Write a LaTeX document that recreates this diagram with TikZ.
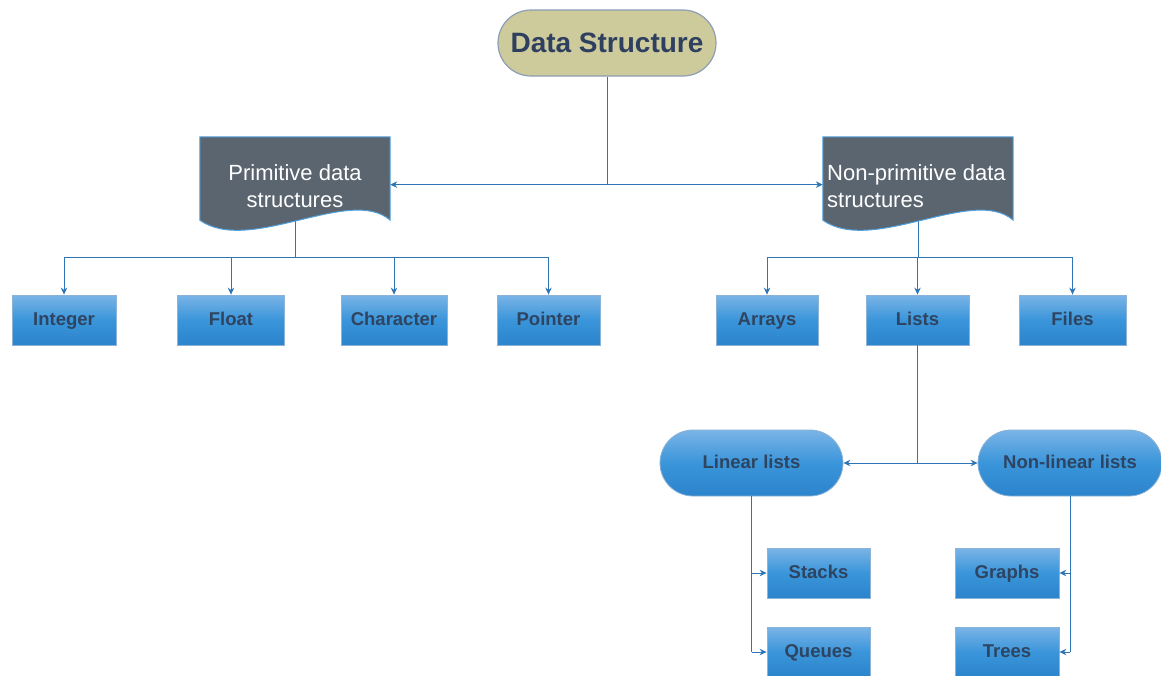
\documentclass[tikz,border=0pt]{standalone}
\usepackage{fontspec}
\setmainfont{Liberation Sans}
\usetikzlibrary{arrows.meta,calc}

\definecolor{wire}{RGB}{46,117,182}
\definecolor{boxtop}{RGB}{122,180,230}
\definecolor{boxmid}{RGB}{58,149,218}
\definecolor{boxbot}{RGB}{44,132,204}
\definecolor{boxedge}{RGB}{140,178,214}
\definecolor{boxtext}{RGB}{46,68,96}
\definecolor{docfill}{RGB}{90,101,112}
\definecolor{docedge}{RGB}{80,160,220}
\definecolor{rootfill}{RGB}{205,203,155}
\definecolor{rootedge}{RGB}{140,157,181}
\definecolor{roottext}{RGB}{47,63,95}

\tikzset{
  wireline/.style={draw=wire, line width=1pt},
  tip/.style={-{Stealth[length=7pt,width=6.5pt]}},
  bothtips/.style={{Stealth[length=7pt,width=6.5pt]}-{Stealth[length=7pt,width=6.5pt]}},
  leaf/.style={rectangle, draw=boxedge, line width=0.8pt,
    top color=boxtop, bottom color=boxbot, middle color=boxmid,
    minimum width=104pt, minimum height=50pt, inner sep=0pt,
    text height=14.5pt, text depth=3pt,
    text=boxtext, font=\fontsize{18.5}{22}\selectfont\bfseries},
  pill/.style={leaf, rounded corners=33pt, minimum width=183pt, minimum height=66pt},
  root/.style={rectangle, rounded corners=33pt, draw=rootedge, line width=1.2pt,
    fill=rootfill, minimum width=218pt, minimum height=66pt,
    text height=22pt, text depth=4pt,
    text=roottext, font=\fontsize{28}{32}\selectfont\bfseries},
  docarea/.style={rectangle, minimum width=190pt, minimum height=83pt, inner sep=0pt},
  doctext/.style={text=white, font=\fontsize{22}{27}\selectfont, inner sep=0pt}
}

% document shape with a wavy lower edge, drawn over the area of a named node
\newcommand\docshape[1]{%
  \filldraw[fill=docfill, draw=docedge, line width=1pt]
    (#1.north west) -- (#1.north east) -- (#1.south east)
    .. controls ($(#1.south east)+(-40,-35)$) and ($(#1.south west)+(50,35)$)
    .. (#1.south west) -- cycle;}

\begin{document}
\begin{tikzpicture}[x=1pt, y=-1pt]
\useasboundingbox (0,0) rectangle (1161,675);

% nodes
\node[root] (ds) at (607,43) {Data Structure};
\node[docarea] (prim) at (295,178.5) {};
\node[docarea] (nonprim) at (918,178.5) {};

\node[leaf] (int)  at (64,320)    {Integer};
\node[leaf, minimum width=107pt] (flt)  at (231,320) {Float};
\node[leaf, minimum width=106pt] (chr)  at (394,320) {Character};
\node[leaf, minimum width=103pt] (ptr)  at (548.5,320) {Pointer};

\node[leaf, minimum width=102pt] (arr)  at (767,320)  {Arrays};
\node[leaf, minimum width=103pt] (lst)  at (917.5,320) {Lists};
\node[leaf, minimum width=107pt] (fil)  at (1072.5,320) {Files};

\node[pill] (lin)    at (751.5,463) {Linear lists};
\node[pill, minimum width=184pt] (nonlin) at (1070,463) {Non-linear lists};

\node[leaf, minimum width=103pt] (stk) at (818.5,573) {Stacks};
\node[leaf, minimum width=103pt] (que) at (818.5,652) {Queues};
\node[leaf] (grp) at (1007,573) {Graphs};
\node[leaf] (tre) at (1007,652) {Trees};

% connectors
\draw[wireline] (ds.south) -- ++(0,108) coordinate (hub);
\draw[wireline, bothtips] (prim.east |- hub) -- (nonprim.west |- hub);

\draw[wireline] (prim.south) -- ++(0,37) coordinate (pbus);
\draw[wireline] (pbus -| int.north) -- (pbus -| ptr.north);
\foreach \b in {int,flt,chr,ptr}
  \draw[wireline, tip] (pbus -| \b.north) -- (\b.north);

\draw[wireline] (nonprim.south) -- ++(0,37) coordinate (nbus);
\draw[wireline] (nbus -| arr.north) -- (nbus -| fil.north);
\foreach \b in {arr,lst,fil}
  \draw[wireline, tip] (nbus -| \b.north) -- (\b.north);

\draw[wireline] (lst.south) -- (lst.south |- lin.east);
\draw[wireline, bothtips] (lin.east) -- (nonlin.west);

\draw[wireline] (lin.south) -- (lin.south |- que.west);
\draw[wireline, tip] (lin.south |- stk.west) -- (stk.west);
\draw[wireline, tip] (lin.south |- que.west) -- (que.west);
\draw[wireline] (nonlin.south) -- (nonlin.south |- tre.east);
\draw[wireline, tip] (nonlin.south |- grp.east) -- (grp.east);
\draw[wireline, tip] (nonlin.south |- tre.east) -- (tre.east);

% document shapes on top of the line ends
\docshape{prim}
\docshape{nonprim}
\node[doctext, align=center] (primtext) at (295,186) {Primitive data\\structures};
\node[doctext, align=left, anchor=west] (nonprimtext) at (827,186) {Non-primitive data\\structures};
\end{tikzpicture}
\end{document}
